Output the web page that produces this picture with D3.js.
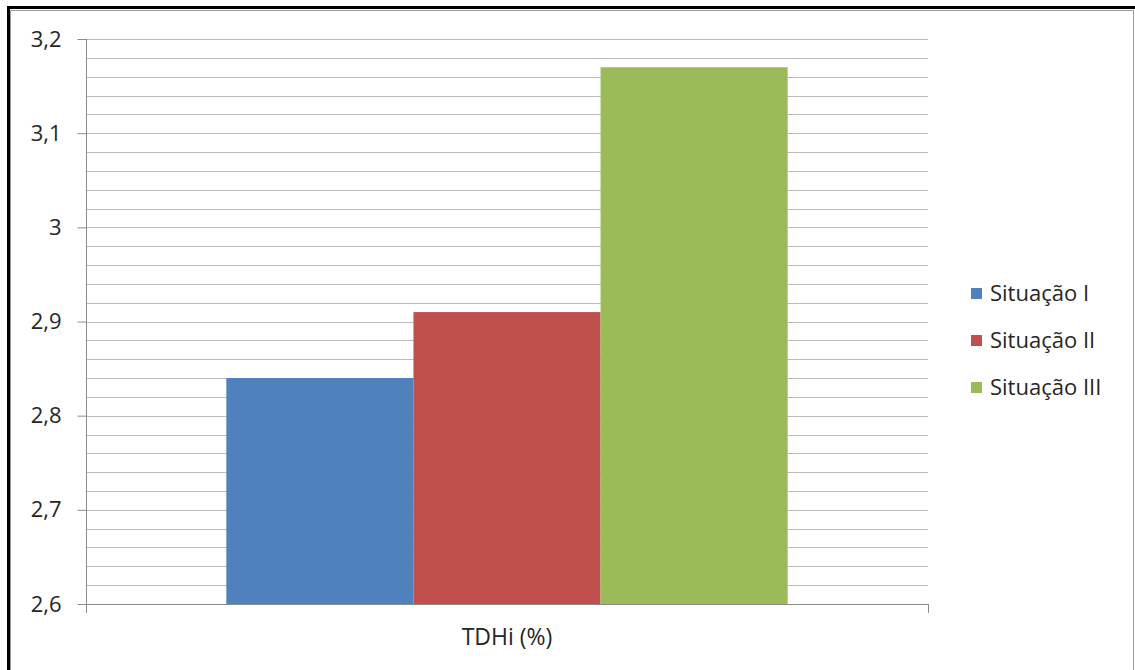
<!DOCTYPE html>
<html>
<head>
<meta charset="utf-8">
<script src="https://cdn.jsdelivr.net/npm/d3@7"></script>
<style>
  html, body { margin: 0; padding: 0; background: #fff; }
  svg { display: block; }
  text { font-family: "Open Sans", "Noto Sans", sans-serif; fill: #262626; }
</style>
</head>
<body>
<svg id="chart" width="1135" height="670"></svg>
<script>
// Category on the horizontal axis
const categories = ["TDHi (%)"];
// One series per situation
const seriesNames = ["Situação I", "Situação II", "Situação III"];
const seriesValues = [2.84, 2.91, 3.17];
const seriesColors = ["#4F81BD", "#C0504D", "#9BBB59"];
// Vertical axis
const yDomain = [2.6, 3.2];
const yMajorTicks = [2.6, 2.7, 2.8, 2.9, 3.0, 3.1, 3.2];
const yTickLabels = ["2,6", "2,7", "2,8", "2,9", "3", "3,1", "3,2"];

const svg = d3.select("#chart");
const W = 1135, H = 670;
const plot = { left: 86, right: 928, top: 39, bottom: 604 };

// Outer frame: heavy black border with a thin grey inner line
svg.append("path")
  .attr("d", `M8.5,${H} V7.5 H${W}`)
  .attr("fill", "none").attr("stroke", "#000").attr("stroke-width", 3);
svg.append("path")
  .attr("d", `M10.5,${H} V10.5 H1133.5 V${H}`)
  .attr("fill", "none").attr("stroke", "#9a9a9a").attr("stroke-width", 1);

const y = d3.scaleLinear().domain(yDomain).range([plot.bottom, plot.top]);
const x0 = d3.scaleBand().domain(categories).range([plot.left, plot.right]).padding(0);
const x1 = d3.scaleBand().domain(seriesNames).range([0, x0.bandwidth()])
  .paddingInner(0).paddingOuter(0.75);

// Minor and major gridlines
const minor = y.ticks(30).filter(v => v > yDomain[0] + 1e-9);
svg.append("g").selectAll("line").data(minor).join("line")
  .attr("x1", plot.left).attr("x2", plot.right)
  .attr("y1", d => Math.round(y(d)) + 0.5).attr("y2", d => Math.round(y(d)) + 0.5)
  .attr("stroke", "#bdbdbd").attr("stroke-width", 1);

// Bars
svg.append("g").selectAll("rect").data(seriesNames).join("rect")
  .attr("x", (d) => x0(categories[0]) + x1(d))
  .attr("width", x1.bandwidth())
  .attr("y", (d, i) => y(seriesValues[i]))
  .attr("height", (d, i) => plot.bottom - y(seriesValues[i]))
  .attr("fill", (d, i) => seriesColors[i]);

// Left axis
const yAxis = d3.axisLeft(y)
  .tickValues(yMajorTicks)
  .tickSize(9)
  .tickPadding(16)
  .tickFormat((d, i) => yTickLabels[i]);
const gy = svg.append("g")
  .attr("transform", `translate(${plot.left + 0.5},0)`)
  .call(yAxis);
gy.select(".domain").attr("stroke", "#8c8c8c").attr("d", `M0,${plot.top}V${plot.bottom}`);
gy.selectAll(".tick line").attr("stroke", "#8c8c8c");
gy.selectAll(".tick text")
  .style("font-family", "'Open Sans', 'Noto Sans', sans-serif")
  .style("font-size", "22px").attr("fill", "#262626");

// Bottom axis with tick marks at the category edges
const gx = svg.append("g");
gx.append("line")
  .attr("x1", plot.left).attr("x2", plot.right + 0.5)
  .attr("y1", plot.bottom + 0.5).attr("y2", plot.bottom + 0.5)
  .attr("stroke", "#8c8c8c");
gx.selectAll("line.edge").data(x0.range()).join("line").attr("class", "edge")
  .attr("x1", d => d + 0.5).attr("x2", d => d + 0.5)
  .attr("y1", plot.bottom).attr("y2", plot.bottom + 9)
  .attr("stroke", "#8c8c8c");
gx.selectAll("text").data(categories).join("text")
  .attr("x", d => x0(d) + x0.bandwidth() / 2)
  .attr("y", 645)
  .attr("text-anchor", "middle")
  .style("font-size", "23px")
  .text(d => d);

// Legend
const legend = svg.append("g").selectAll("g").data(seriesNames).join("g")
  .attr("transform", (d, i) => `translate(971,${293 + i * 47})`);
legend.append("rect")
  .attr("x", 0).attr("y", -5).attr("width", 11).attr("height", 11)
  .attr("fill", (d, i) => seriesColors[i]);
legend.append("text")
  .attr("x", 19).attr("y", 0).attr("dy", "0.35em")
  .style("font-size", "22px")
  .text(d => d);
</script>
</body>
</html>
